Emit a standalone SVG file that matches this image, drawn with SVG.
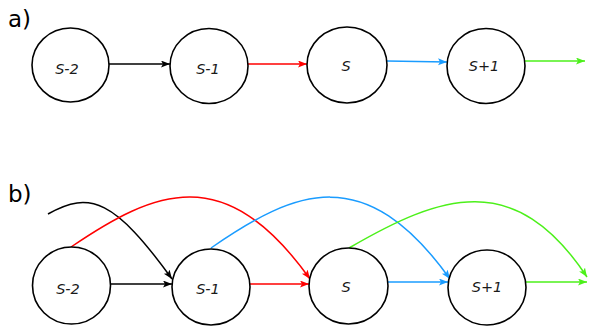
<svg xmlns="http://www.w3.org/2000/svg" width="589" height="327" viewBox="0 0 589 327">
<style>
.node ellipse{fill:#fff;stroke:#000;stroke-width:1.6}
.lbl{font-family:"DejaVu Sans",sans-serif;font-style:italic;font-size:14.5px;text-anchor:middle;fill:#1a1a1a}
.tag{font-family:"DejaVu Sans",sans-serif;font-size:23px;fill:#000}
.e{fill:none;stroke-width:1.5}
.k{stroke:#000}.r{stroke:#FF0000}.b{stroke:#1A9CFF}.g{stroke:#4CF01A}
</style>
<defs>
<marker id="mk" markerUnits="userSpaceOnUse" markerWidth="10" markerHeight="8" refX="9" refY="3.5" orient="auto"><path d="M0,0 L9,3.5 L0,7 L2,3.5 z" fill="#000"/></marker>
<marker id="mr" markerUnits="userSpaceOnUse" markerWidth="10" markerHeight="8" refX="9" refY="3.5" orient="auto"><path d="M0,0 L9,3.5 L0,7 L2,3.5 z" fill="#FF0000"/></marker>
<marker id="mb" markerUnits="userSpaceOnUse" markerWidth="10" markerHeight="8" refX="9" refY="3.5" orient="auto"><path d="M0,0 L9,3.5 L0,7 L2,3.5 z" fill="#1A9CFF"/></marker>
<marker id="mg" markerUnits="userSpaceOnUse" markerWidth="10" markerHeight="8" refX="9" refY="3.5" orient="auto"><path d="M0,0 L9,3.5 L0,7 L2,3.5 z" fill="#4CF01A"/></marker>
</defs>
<text class="tag" x="8" y="27">a)</text>
<text class="tag" x="8" y="202">b)</text>
<g id="connectors">
<path class="e k" d="M109,64 L170,64" marker-end="url(#mk)"/>
<path class="e r" d="M248,64 L307,64" marker-end="url(#mr)"/>
<path class="e b" d="M387,61 L447,62" marker-end="url(#mb)"/>
<path class="e g" d="M525,61 L585,61" marker-end="url(#mg)"/>
<path class="e k" d="M111,284 L172,284" marker-end="url(#mk)"/>
<path class="e r" d="M250,284 L309,284" marker-end="url(#mr)"/>
<path class="e b" d="M388,282 L448,282" marker-end="url(#mb)"/>
<path class="e g" d="M526,282 L587,282" marker-end="url(#mg)"/>
<path class="e k" d="M48,214 C90,190 115,200 172,279" marker-end="url(#mk)"/>
<path class="e r" d="M71,247 C155,190 225,160 310,279" marker-end="url(#mr)"/>
<path class="e b" d="M211,248 C295,190 365,160 450,279" marker-end="url(#mb)"/>
<path class="e g" d="M349,248 C440,195 515,168 587,277" marker-end="url(#mg)"/>
</g>
<g id="a-s-2" class="node"><ellipse cx="70.5" cy="65" rx="38.5" ry="37"/><text class="lbl" x="67" y="74">S-2</text></g>
<g id="a-s-1" class="node"><ellipse cx="209" cy="66" rx="39" ry="37.5"/><text class="lbl" x="208" y="74">S-1</text></g>
<g id="a-s" class="node"><ellipse cx="347" cy="65" rx="40" ry="38"/><text class="lbl" x="346" y="71">S</text></g>
<g id="a-s+1" class="node"><ellipse cx="486" cy="66" rx="39" ry="37.5"/><text class="lbl" x="484" y="71">S+1</text></g>
<g id="b-s-2" class="node"><ellipse cx="71.5" cy="285.5" rx="39" ry="38.5"/><text class="lbl" x="68" y="294">S-2</text></g>
<g id="b-s-1" class="node"><ellipse cx="211" cy="287" rx="39" ry="38"/><text class="lbl" x="208" y="294">S-1</text></g>
<g id="b-s" class="node"><ellipse cx="348.5" cy="286" rx="39.5" ry="38"/><text class="lbl" x="346" y="292">S</text></g>
<g id="b-s+1" class="node"><ellipse cx="487" cy="287.5" rx="39" ry="37.5"/><text class="lbl" x="487" y="292">S+1</text></g>
</svg>
